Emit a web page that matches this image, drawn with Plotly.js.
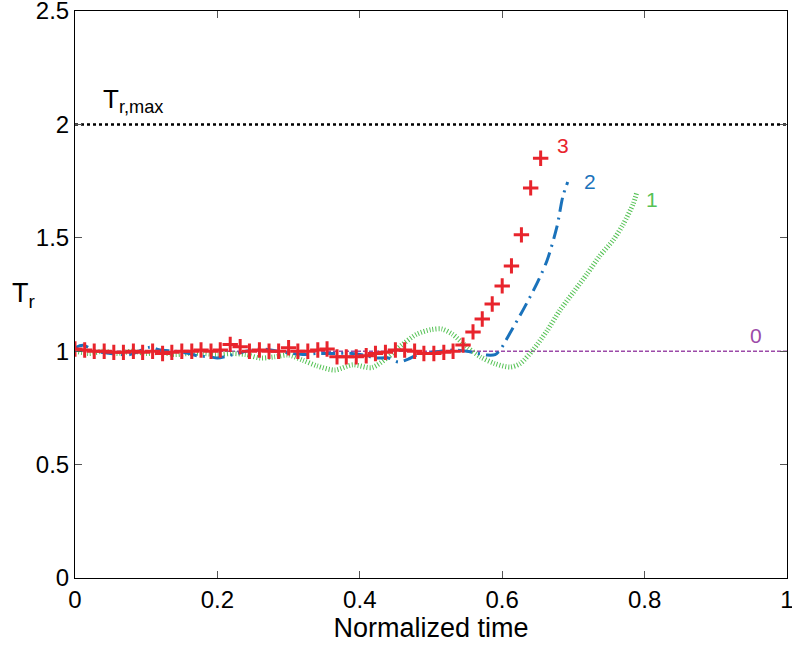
<!DOCTYPE html>
<html>
<head>
<meta charset="utf-8">
<script src="https://cdn.plot.ly/plotly-3.0.1.min.js"></script>
<style>html,body{margin:0;padding:0;background:#fff;}#chart{width:792px;height:648px;}</style>
</head>
<body>
<div id="chart"></div>
<script>
// Series 0: reference level
var x0 = [0, 1];
var y0 = [1, 1];
// T_r,max level
var xMax = [0, 1];
var yMax = [2, 2];
// Series 1 (green dotted)
var x1 = [0, 0.02, 0.04, 0.06, 0.08, 0.10, 0.12, 0.14, 0.16, 0.18, 0.20, 0.22, 0.24, 0.26, 0.28, 0.30, 0.32, 0.34, 0.365, 0.39, 0.417, 0.44, 0.46, 0.48, 0.50, 0.515, 0.53, 0.55, 0.57, 0.59, 0.611, 0.625, 0.643, 0.663, 0.681, 0.70, 0.719, 0.737, 0.756, 0.770, 0.784, 0.789];
var y1 = [1.0, 0.99, 1.0, 0.99, 1.0, 0.99, 0.995, 0.985, 0.99, 0.99, 0.985, 0.99, 0.985, 0.97, 0.975, 0.983, 0.96, 0.935, 0.917, 0.94, 0.928, 0.975, 1.03, 1.075, 1.095, 1.098, 1.075, 1.02, 0.974, 0.945, 0.930, 0.945, 1.005, 1.09, 1.18, 1.26, 1.34, 1.42, 1.49, 1.56, 1.65, 1.70];
// Series 2 (blue dash-dot)
var x2 = [0, 0.011, 0.03, 0.05, 0.077, 0.09, 0.105, 0.12, 0.14, 0.16, 0.171, 0.19, 0.2, 0.222, 0.24, 0.263, 0.285, 0.305, 0.323, 0.34, 0.361, 0.389, 0.41, 0.421, 0.44, 0.454, 0.468, 0.48, 0.503, 0.531, 0.55, 0.579, 0.59, 0.597, 0.611, 0.629, 0.649, 0.663, 0.677, 0.685, 0.692];
var y2 = [1.015, 1.026, 1.0, 0.99, 0.985, 1.0, 1.017, 1.005, 1.0, 0.99, 0.98, 0.975, 0.97, 0.985, 1.0, 1.01, 1.0, 0.99, 0.985, 0.99, 0.99, 0.99, 0.98, 0.97, 0.97, 0.952, 0.965, 0.983, 0.996, 1.005, 1.0, 0.983, 0.985, 1.005, 1.08, 1.18, 1.30, 1.40, 1.55, 1.68, 1.746];
// Series 3 (red plus markers)
var x3 = [0, 0.0136, 0.027, 0.041, 0.0545, 0.068, 0.082, 0.095, 0.109, 0.123, 0.136, 0.150, 0.164, 0.177, 0.191, 0.204, 0.218, 0.232, 0.245, 0.259, 0.2725, 0.286, 0.300, 0.313, 0.327, 0.341, 0.354, 0.368, 0.381, 0.395, 0.409, 0.422, 0.436, 0.450, 0.463, 0.477, 0.490, 0.504, 0.518, 0.531, 0.545, 0.559, 0.572, 0.586, 0.600, 0.613, 0.627, 0.640, 0.654];
var y3 = [1.01, 1.005, 1.0, 1.0, 0.995, 0.995, 1.0, 0.995, 1.0, 0.99, 0.995, 1.0, 1.0, 1.005, 1.0, 1.005, 1.03, 1.02, 1.0, 1.005, 1.0, 1.0, 1.015, 1.0, 1.0, 1.005, 1.01, 0.975, 0.975, 0.975, 0.98, 0.99, 0.995, 1.005, 1.005, 1.0, 0.99, 0.99, 0.995, 1.0, 1.027, 1.085, 1.142, 1.208, 1.288, 1.376, 1.513, 1.72, 1.851];
var xTicks = [0, 0.2, 0.4, 0.6, 0.8, 1];
var xTickText = ['0', '0.2', '0.4', '0.6', '0.8', '1'];
var yTicks = [0, 0.5, 1, 1.5, 2, 2.5];
var yTickText = ['0', '0.5', '1', '1.5', '2', '2.5'];

var cRed = '#e8242c', cBlue = '#1a72bb', cGreen = '#55c255', cPurple = '#9c4aa8';

var traces = [
  {x: xMax, y: yMax, mode: 'lines', line: {color: '#000', width: 2.5, dash: '3px,3px'}, hoverinfo: 'skip'},
  {x: x0, y: y0, mode: 'lines', line: {color: cPurple, width: 1.5, dash: '4px,2px'}, hoverinfo: 'skip'},
  {x: x1, y: y1, mode: 'lines', line: {color: cGreen, width: 5, dash: '1px,2px', shape: 'spline', smoothing: 0.8}},
  {x: x2, y: y2, mode: 'lines', line: {color: cBlue, width: 3, dash: '14px,6px,2px,6px', shape: 'spline', smoothing: 0.8}},
  {x: x3, y: y3, mode: 'markers', marker: {symbol: 'cross-thin', size: 11, color: cRed, line: {color: cRed, width: 3}}}
];

var fontFam = 'Liberation Sans, Arial, sans-serif';
var layout = {
  width: 792, height: 648,
  margin: {l: 75, r: 5, t: 11, b: 70},
  paper_bgcolor: '#fff', plot_bgcolor: '#fff',
  showlegend: false,
  font: {family: fontFam, color: '#000'},
  xaxis: {
    range: [0, 1], tickvals: xTicks, ticktext: xTickText,
    ticks: 'inside', ticklen: 7, tickwidth: 1, tickcolor: '#555',
    showline: true, linecolor: '#000', linewidth: 1, mirror: 'ticks',
    showgrid: false, zeroline: false, ticklabeloverflow: 'allow',
    tickfont: {size: 24, family: fontFam},
    title: {text: 'Normalized time', font: {size: 27, family: fontFam}, standoff: 6}
  },
  yaxis: {
    range: [0, 2.5], tickvals: yTicks, ticktext: yTickText,
    ticks: 'inside', ticklen: 7, tickwidth: 1, tickcolor: '#555',
    showline: true, linecolor: '#000', linewidth: 1, mirror: 'ticks',
    showgrid: false, zeroline: false, ticklabeloverflow: 'allow',
    tickfont: {size: 24, family: fontFam}
  },
  annotations: [
    {xref: 'paper', yref: 'y', x: -0.073, y: 1.25, text: 'T<sub>r</sub>', showarrow: false, font: {size: 27, family: fontFam, color: '#000'}, xanchor: 'center', yanchor: 'middle'},
    {xref: 'x', yref: 'y', x: 0.037, y: 2.107, text: 'T<sub>r,max</sub>', showarrow: false, font: {size: 26, family: fontFam, color: '#000'}, xanchor: 'left', yanchor: 'middle'},
    {xref: 'x', yref: 'y', x: 0.685, y: 1.909, text: '3', showarrow: false, font: {size: 21, family: fontFam, color: cRed}},
    {xref: 'x', yref: 'y', x: 0.723, y: 1.75, text: '2', showarrow: false, font: {size: 21, family: fontFam, color: cBlue}},
    {xref: 'x', yref: 'y', x: 0.81, y: 1.671, text: '1', showarrow: false, font: {size: 21, family: fontFam, color: cGreen}},
    {xref: 'x', yref: 'y', x: 0.956, y: 1.071, text: '0', showarrow: false, font: {size: 21, family: fontFam, color: cPurple}}
  ]
};

Plotly.newPlot('chart', traces, layout, {displayModeBar: false, staticPlot: true});
</script>
</body>
</html>
